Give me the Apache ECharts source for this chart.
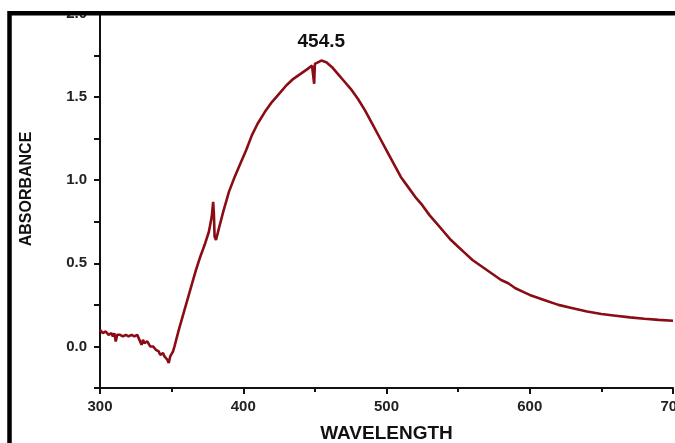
<!DOCTYPE html>
<html>
<head>
<meta charset="utf-8">
<script src="https://cdn.jsdelivr.net/npm/echarts@6/dist/echarts.min.js"></script>
<style>html,body{margin:0;padding:0;background:#fff}#c{width:675px;height:443px}</style>
</head>
<body>
<div id="c"></div>
<script>
const wavelengths = [300,301,302,304,306,308,309,310,311,312,314,316,318,320,322,324,326,327,328,329,330,331,333,335,337,339,341,342,344,345,346,347,348,349,350,351,352,355,358,361,364,367,370,373,376,378,379,379.5,380,381,383,386,390,394,398,402,406,410,415,420,425,430,435,440,445,448,449,449.5,450,451,454.5,458,462,466,470,475,480,485,490,495,500,505,510,515,520,525,530,535,540,545,550,555,560,565,570,575,580,585,590,595,600,610,620,630,640,650,660,670,680,690,700];
const absorbance = [0.10,0.11,0.08,0.09,0.07,0.08,0.06,0.08,0.03,0.07,0.07,0.06,0.07,0.06,0.07,0.06,0.07,0.05,0.06,0.01,0.04,0.02,0.03,0.00,0.00,-0.02,-0.03,-0.05,-0.04,-0.06,-0.05,-0.08,-0.10,-0.06,-0.07,-0.03,0.00,0.10,0.19,0.28,0.37,0.46,0.54,0.61,0.69,0.78,0.87,0.80,0.66,0.64,0.71,0.81,0.93,1.02,1.10,1.18,1.27,1.34,1.41,1.47,1.52,1.57,1.61,1.64,1.67,1.69,1.70,1.58,1.70,1.71,1.72,1.71,1.68,1.64,1.60,1.55,1.49,1.42,1.34,1.26,1.18,1.10,1.02,0.96,0.90,0.85,0.79,0.74,0.69,0.64,0.60,0.56,0.52,0.49,0.46,0.43,0.40,0.38,0.35,0.33,0.31,0.28,0.25,0.23,0.21,0.195,0.185,0.175,0.167,0.16,0.155];
const peakWavelength = 454.5;
const peakAbsorbance = 1.72;
const peakLabel = '454.5';
const xTicks = [300,400,500,600,700];
const yTickLabels = ['0.0','0.5','1.0','1.5','2.0'];

const data = wavelengths.map((w,i)=>[w,absorbance[i]]);
const chart = echarts.init(document.getElementById('c'), null, {renderer:'canvas'});
const font = '"Liberation Sans", Arial, sans-serif';
chart.setOption({
  animation:false,
  backgroundColor:'#ffffff',
  grid:{left:100,right:2,top:14,bottom:55,containLabel:false,outerBoundsMode:'none'},
  xAxis:{
    type:'value',min:xTicks[0],max:xTicks[xTicks.length-1],interval:100,
    name:'WAVELENGTH',nameLocation:'middle',nameGap:36,
    nameTextStyle:{fontFamily:font,fontWeight:'bold',fontSize:19,color:'#111'},
    axisLine:{show:true,onZero:false,lineStyle:{color:'#111',width:2}},
    axisTick:{show:true,length:6,lineStyle:{color:'#111',width:2}},
    minorTick:{show:true,splitNumber:2,length:4,lineStyle:{color:'#111',width:2}},
    axisLabel:{fontFamily:font,fontWeight:'bold',fontSize:15,color:'#222',margin:11,hideOverlap:false},
    splitLine:{show:false}
  },
  yAxis:{
    type:'value',min:-0.25,max:2.0,interval:0.25,
    name:'ABSORBANCE',nameLocation:'middle',nameGap:65,nameRotate:90,
    nameTextStyle:{fontFamily:font,fontWeight:'bold',fontSize:16,color:'#111',padding:[0,0,0,24]},
    axisLine:{show:true,onZero:false,lineStyle:{color:'#111',width:2}},
    axisTick:{show:true,length:6,lineStyle:{color:'#111',width:2}},
    axisLabel:{fontFamily:font,fontWeight:'bold',fontSize:15,color:'#222',margin:13,hideOverlap:false,
      formatter:function(v){const s=v.toFixed(1);return (Math.abs(v*2-Math.round(v*2))<1e-6 && yTickLabels.indexOf(s)>=0)?s:'';}},
    splitLine:{show:false}
  },
  series:[{
    type:'line',data:data,showSymbol:false,symbol:'none',
    lineStyle:{color:'#8a0c14',width:2.6},
    markPoint:{
      symbol:'circle',symbolSize:0,
      label:{show:true,formatter:peakLabel,position:'top',distance:9,fontFamily:font,fontWeight:'bold',fontSize:19,color:'#111'},
      data:[{coord:[peakWavelength,peakAbsorbance]}]
    }
  }],
  graphic:[
    {type:'rect',z:100,shape:{x:0,y:0,width:675,height:11},style:{fill:'#fff'}},
    {type:'rect',z:100,shape:{x:0,y:0,width:7,height:443},style:{fill:'#fff'}},
    {type:'rect',z:101,shape:{x:9.5,y:13.2,width:800,height:600},style:{fill:null,stroke:'#000',lineWidth:4.5}}
  ]
});
</script>
</body>
</html>
